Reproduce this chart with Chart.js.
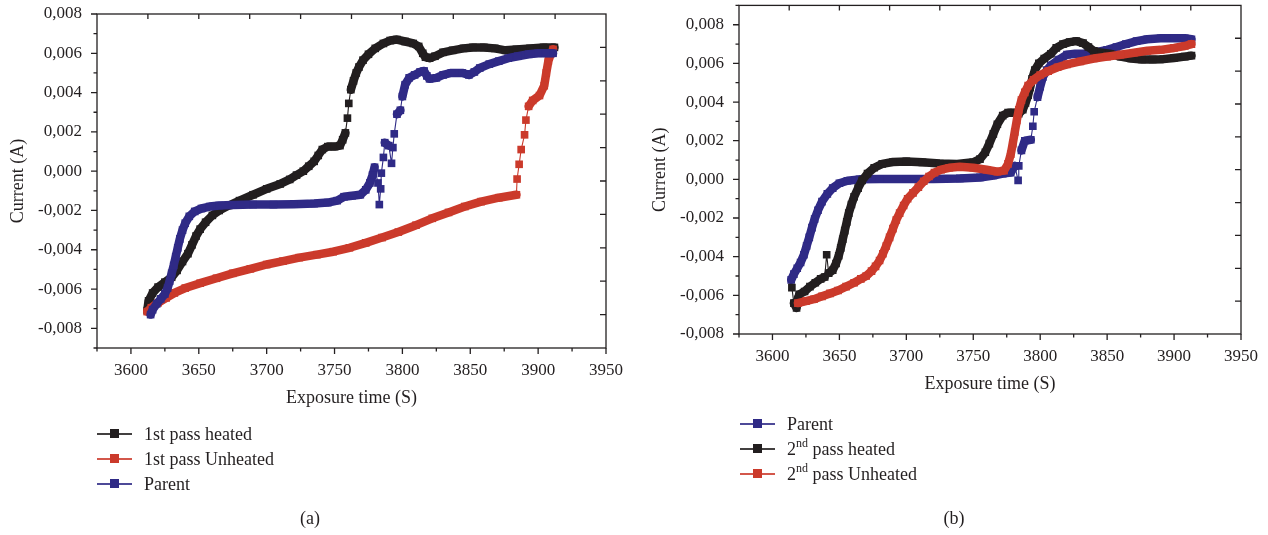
<!DOCTYPE html>
<html>
<head>
<meta charset="utf-8">
<script src="https://cdn.jsdelivr.net/npm/chart.js@4.4.1/dist/chart.umd.min.js"></script>
<style>
  html, body { margin: 0; padding: 0; background: #ffffff; }
  body { width: 1268px; height: 535px; position: relative; overflow: hidden;
         font-family: "Liberation Serif", "DejaVu Serif", serif; color: #231f20; }
  canvas { position: absolute; top: 0; }
  #chartA { left: 0; }
  #chartB { left: 634px; }
  .row { position: absolute; white-space: nowrap; height: 20px; line-height: 20px; font-size: 18px; }
  .sym { position: absolute; top: 0; width: 35px; height: 20px; }
  .sym .ln { position: absolute; left: 0; top: 9px; width: 35px; height: 1.5px; opacity: 0.85; }
  .sym .sq { position: absolute; left: 13px; top: 5px; width: 9px; height: 9px; }
  .txt { position: absolute; top: 0; }
  .txt sup { font-size: 12px; line-height: 0; position: relative; top: -1px; }
  .cap { position: absolute; font-size: 18px; top: 508px; transform: translateX(-50%); }
</style>
</head>
<body>
<canvas id="chartA" width="634" height="535"></canvas>
<canvas id="chartB" width="634" height="535"></canvas>
<div id="legendA"></div>
<div id="legendB"></div>
<div class="cap" style="left:310px">(a)</div>
<div class="cap" style="left:954px">(b)</div>
<script>
// ---------- axis ticks ----------
const xTickValues = [3600, 3650, 3700, 3750, 3800, 3850, 3900, 3950];
const yTickValues = [-0.008, -0.006, -0.004, -0.002, 0, 0.002, 0.004, 0.006, 0.008];
const xTitle = 'Exposure time (S)';
const yTitle = 'Current (A)';

// ---------- panel (a) ----------
const aHeatedLabel = '1st pass heated';
const aHeatedT = [3612,3613,3616,3620,3625,3630,3634,3638,3642,3645,3648,3651,3655,3660,3665,3672,3680,3690,3700,3710,3717,3722,3727,3731,3735,3738,3741,3745,3750,3754,3756,3758,3759.5,3760.5,3762,3764,3766,3768,3771,3775,3780,3786,3791,3796,3802,3808,3812,3815,3817,3820,3824,3830,3837,3845,3852,3860,3868,3876,3884,3894,3904,3912];
const aHeatedI = [-0.0071,-0.0066,-0.0062,-0.0059,-0.00565,-0.0054,-0.00505,-0.0046,-0.0042,-0.00375,-0.0033,-0.00295,-0.0026,-0.00225,-0.002,-0.00175,-0.0015,-0.0012,-0.0009,-0.00065,-0.00042,-0.0002,0,0.00025,0.0005,0.0008,0.0011,0.00125,0.00125,0.0013,0.0016,0.00195,0.0027,0.00345,0.00415,0.0046,0.005,0.0053,0.00565,0.00595,0.00625,0.0065,0.00665,0.0067,0.0066,0.0065,0.00635,0.006,0.0058,0.00575,0.00585,0.00605,0.00615,0.00625,0.0063,0.0063,0.00625,0.00615,0.0062,0.00625,0.0063,0.0063];

const aUnheatedLabel = '1st pass Unheated';
const aUnheatedT = [3612,3615,3620,3626,3632,3640,3651,3663,3675,3688,3700,3712,3724,3737,3749,3761,3773,3785,3797,3810,3822,3834,3846,3858,3871,3884,3884.5,3886,3887.5,3890,3891,3893,3896,3901,3904.5,3906,3907.5,3909.5,3911];
const aUnheatedI = [-0.00715,-0.00695,-0.0067,-0.00645,-0.0062,-0.00595,-0.0057,-0.00545,-0.0052,-0.00497,-0.00475,-0.00458,-0.0044,-0.00425,-0.0041,-0.0039,-0.00365,-0.00338,-0.0031,-0.00275,-0.0024,-0.0021,-0.0018,-0.00155,-0.00135,-0.0012,-0.0004,0.00035,0.0011,0.00185,0.0026,0.0033,0.0036,0.00385,0.00435,0.005,0.0056,0.006,0.0062];

const aParentLabel = 'Parent';
const aParentT = [3614.5,3616,3619,3622,3625,3627,3628.5,3630,3631.5,3633,3634.5,3636,3638,3640,3643,3647,3652,3658,3665,3675,3690,3705,3720,3735,3745,3752,3757,3763,3769,3773,3776,3778,3779.5,3782,3783,3784,3784.5,3786,3787,3790,3792,3793,3794,3796,3798.5,3800,3802,3805,3809,3813,3816,3818,3820,3825,3830,3836,3844,3849,3853,3857,3864,3871,3878,3885,3893,3900,3906,3911];
const aParentI = [-0.0073,-0.00705,-0.00675,-0.0065,-0.00625,-0.00595,-0.0056,-0.0052,-0.0048,-0.00435,-0.0039,-0.00345,-0.003,-0.00265,-0.0023,-0.00205,-0.0019,-0.0018,-0.00175,-0.00172,-0.0017,-0.0017,-0.00168,-0.00165,-0.0016,-0.0015,-0.0013,-0.00125,-0.0012,-0.00095,-0.0006,-0.0002,0.0002,-0.0006,-0.0017,-0.0009,-0.0001,0.0007,0.00145,0.0013,0.0004,0.0012,0.0019,0.0029,0.0031,0.0038,0.0044,0.00475,0.0049,0.00505,0.0051,0.00485,0.0047,0.00475,0.0049,0.005,0.005,0.0049,0.00505,0.00525,0.00545,0.0056,0.00575,0.00585,0.00595,0.006,0.006,0.006];

// ---------- panel (b) ----------
const bParentLabel = 'Parent';
const bParentT = [3614,3616,3618.5,3621,3623.5,3625.5,3627.5,3629.5,3631.5,3634,3637,3641,3645,3650,3656,3665,3680,3700,3720,3740,3755,3765,3772,3778,3781,3783.5,3784,3786,3788.5,3793,3794.5,3795.5,3798,3800,3802,3805,3808,3814,3820,3826,3832,3840,3850,3857,3864,3872,3880,3890,3900,3908,3913];
const bParentI = [-0.0052,-0.0049,-0.0046,-0.0043,-0.0039,-0.00345,-0.003,-0.0025,-0.00205,-0.0016,-0.00115,-0.00075,-0.00045,-0.0002,-0.00007,0,0.00002,0.00002,0.00002,0.00005,0.0001,0.0002,0.0003,0.00035,0.0007,-0.00005,0.0007,0.0015,0.002,0.00205,0.00275,0.0035,0.00425,0.0048,0.0053,0.00565,0.0059,0.0062,0.00645,0.0065,0.0065,0.00655,0.0067,0.00685,0.007,0.00715,0.00725,0.0073,0.0073,0.0073,0.00725];

const bHeatedLabel = '2nd pass heated';
const bHeatedT = [3614.5,3616,3618,3619,3620,3624,3628,3632,3636,3639,3640.5,3642,3645,3647.5,3649.5,3651,3652.5,3654,3655.5,3657,3659,3661,3664,3667,3671,3676,3682,3690,3700,3712,3725,3738,3750,3755,3759,3762,3765,3768,3772,3776,3780,3784,3787,3789,3791,3792.5,3794,3796,3799,3803,3808,3812,3817,3822,3827,3832,3836,3840,3846,3852,3860,3868,3876,3884,3892,3900,3908,3913];
const bHeatedI = [-0.0056,-0.0064,-0.00665,-0.0062,-0.00595,-0.0058,-0.00555,-0.00535,-0.00515,-0.00505,-0.0039,-0.00485,-0.0047,-0.00435,-0.00395,-0.00355,-0.0031,-0.00265,-0.0022,-0.00175,-0.0013,-0.0009,-0.00045,-0.00005,0.0003,0.0006,0.0008,0.0009,0.00093,0.00088,0.00082,0.0008,0.00088,0.00105,0.0014,0.00185,0.00235,0.00285,0.0033,0.00345,0.00345,0.0034,0.0036,0.00395,0.00435,0.00475,0.0052,0.00565,0.006,0.00625,0.0065,0.0068,0.007,0.0071,0.00715,0.00705,0.00685,0.00665,0.00655,0.0065,0.00635,0.00625,0.0062,0.0062,0.00622,0.00628,0.00635,0.0064];

const bUnheatedLabel = '2nd pass Unheated';
const bUnheatedT = [3619,3625,3631,3637,3643,3649,3655,3661,3666,3670,3674,3677,3680,3682.5,3685,3687.5,3690,3692.5,3695,3698,3701,3705,3709,3713,3717,3721,3726,3732,3740,3750,3760,3768,3773,3776,3778,3779.5,3781,3782.5,3784,3786,3788.5,3791,3795,3800,3806,3813,3820,3830,3840,3850,3860,3870,3880,3890,3900,3908,3913];
const bUnheatedI = [-0.0064,-0.0063,-0.0062,-0.00605,-0.0059,-0.00575,-0.00555,-0.00535,-0.00515,-0.005,-0.00475,-0.0045,-0.0042,-0.00385,-0.00345,-0.003,-0.00255,-0.0021,-0.00175,-0.00135,-0.001,-0.0007,-0.0004,-0.0001,0.00015,0.00035,0.0005,0.0006,0.00065,0.0006,0.0005,0.0004,0.00045,0.0008,0.0013,0.00185,0.00245,0.00305,0.0036,0.0041,0.0045,0.00485,0.00515,0.0054,0.0056,0.0058,0.00595,0.0061,0.00625,0.00635,0.00645,0.00655,0.00665,0.0067,0.0068,0.0069,0.007];

// ---------- styling ----------
const INK = '#231f20';
const FONT = '"Liberation Serif", "DejaVu Serif", serif';
const BLACK = '#221e1f';
const RED = '#cb3a2b';
const BLUE = '#2f2a86';
const THICK = 8.5;

function pairs(ts, vs) { return ts.map((t, i) => ({ x: t, y: vs[i] })); }

function series(label, ts, vs, color) {
  return {
    label, data: pairs(ts, vs),
    borderColor: color, backgroundColor: color,
    pointBackgroundColor: color, pointBorderWidth: 0,
    pointStyle: 'rect', pointRadius: 5.4, pointHoverRadius: 5.4,
    borderWidth: THICK, tension: 0,
    borderCapStyle: 'round', borderJoinStyle: 'round',
    segment: {
      // sparse, near-vertical jumps are joined by a thin line (as in the original plot)
      borderWidth: ctx => {
        const dx = ctx.p1.x - ctx.p0.x, dy = ctx.p1.y - ctx.p0.y;
        return (Math.hypot(dx, dy) > 13 && Math.abs(dy) > 1.5 * Math.abs(dx)) ? 1.1 : THICK;
      }
    }
  };
}

const framePlugin = {
  id: 'frame',
  afterDatasetsDraw(chart) {
    const { ctx, chartArea: a, scales: { x, y } } = chart;
    ctx.save();
    ctx.strokeStyle = INK;
    ctx.lineWidth = 1.3;
    ctx.strokeRect(a.left, a.top, a.right - a.left, a.bottom - a.top);
    ctx.beginPath();
    const xStep = (xTickValues[1] - xTickValues[0]) / 2;
    const nx = Math.round((x.max - x.min) / xStep);
    for (let i = 0; i <= nx; i++) {
      const v = x.min + i * xStep;
      const px = x.getPixelForValue(v);
      const major = Math.abs(v / (2 * xStep) - Math.round(v / (2 * xStep))) < 1e-6;
      ctx.moveTo(px, a.bottom);
      ctx.lineTo(px, a.bottom + (major ? 6 : 3.5));
    }
    const yStep = (yTickValues[1] - yTickValues[0]) / 2;
    const ny = Math.round((y.max - y.min) / yStep);
    for (let i = 0; i <= ny; i++) {
      const v = y.min + i * yStep;
      const py = y.getPixelForValue(v);
      const major = Math.abs(v / (2 * yStep) - Math.round(v / (2 * yStep))) < 1e-6;
      ctx.moveTo(a.left, py);
      ctx.lineTo(a.left - (major ? 6 : 3.5), py);
    }
    for (let i = 1; i < 10; i++) {
      const px = a.left + (a.right - a.left) * i / 10;
      ctx.moveTo(px, a.top); ctx.lineTo(px, a.top + 5);
      const py = a.top + (a.bottom - a.top) * i / 10;
      ctx.moveTo(a.right, py); ctx.lineTo(a.right - 6, py);
    }
    ctx.stroke();
    ctx.restore();
  }
};

function fmt(v) { const s = (Math.abs(v) < 1e-12 ? 0 : v).toFixed(3).replace('.', ','); return s; }

function makeChart(id, datasets, yMin, yMax, pad, yWidth, xHeight) {
  return new Chart(document.getElementById(id), {
    type: 'line',
    data: { datasets },
    options: {
      responsive: false, animation: false, devicePixelRatio: 1, events: [],
      layout: { padding: pad },
      plugins: { legend: { display: false }, tooltip: { enabled: false } },
      scales: {
        x: {
          type: 'linear', min: 3575, max: 3950,
          afterBuildTicks: s => { s.ticks = xTickValues.map(v => ({ value: v })); },
          afterFit: s => { s.height = xHeight; s.paddingLeft = 0; s.paddingRight = 0; },
          grid: { display: false, drawTicks: false }, border: { display: false },
          ticks: { autoSkip: false, maxRotation: 0, padding: 12, color: INK,
                   font: { family: FONT, size: 17 }, callback: v => String(v) },
          title: { display: true, text: xTitle, color: INK, padding: 0,
                   font: { family: FONT, size: 18 } }
        },
        y: {
          type: 'linear', min: yMin, max: yMax,
          afterBuildTicks: s => { s.ticks = yTickValues.map(v => ({ value: v })); },
          afterFit: s => { s.width = yWidth; s.paddingTop = 0; s.paddingBottom = 0; },
          grid: { display: false, drawTicks: false }, border: { display: false },
          ticks: { autoSkip: false, padding: 15, color: INK,
                   font: { family: FONT, size: 17 }, callback: v => fmt(v) },
          title: { display: true, text: yTitle, color: INK, padding: 0,
                   font: { family: FONT, size: 18 } }
        }
      }
    },
    plugins: [framePlugin]
  });
}

// panel (a): Parent drawn on top, then Unheated, then Heated
makeChart('chartA', [
  series(aParentLabel, aParentT, aParentI, BLUE),
  series(aUnheatedLabel, aUnheatedT, aUnheatedI, RED),
  series(aHeatedLabel, aHeatedT, aHeatedI, BLACK)
], -0.009, 0.008, { left: 7, right: 28, top: 14, bottom: 126 }, 90, 61);

// panel (b): Unheated on top, then Heated, then Parent
makeChart('chartB', [
  series(bUnheatedLabel, bUnheatedT, bUnheatedI, RED),
  series(bHeatedLabel, bHeatedT, bHeatedI, BLACK),
  series(bParentLabel, bParentT, bParentI, BLUE)
], -0.008, 0.009, { left: 15, right: 27, top: 4, bottom: 140 }, 90, 61);

// ---------- legends ----------
function legend(el, items, left, centers, sup) {
  items.forEach((it, i) => {
    const row = document.createElement('div');
    row.className = 'row';
    row.style.left = left + 'px';
    row.style.top = (centers[i] - 10) + 'px';
    const sym = document.createElement('div');
    sym.className = 'sym';
    sym.innerHTML = '<div class="ln" style="background:' + it.color + '"></div><div class="sq" style="background:' + it.color + '"></div>';
    const txt = document.createElement('div');
    txt.className = 'txt';
    txt.style.left = '47px';
    if (sup) {
      const m = it.label.match(/^(\d)(st|nd|rd|th)(.*)$/);
      if (m) { txt.append(m[1]); const s = document.createElement('sup'); s.textContent = m[2]; txt.append(s); txt.append(m[3]); }
      else txt.textContent = it.label;
    } else txt.textContent = it.label;
    row.appendChild(sym); row.appendChild(txt);
    el.appendChild(row);
  });
}
legend(document.getElementById('legendA'), [
  { label: aHeatedLabel, color: BLACK },
  { label: aUnheatedLabel, color: RED },
  { label: aParentLabel, color: BLUE }
], 97, [434, 459, 484], false);
legend(document.getElementById('legendB'), [
  { label: bParentLabel, color: BLUE },
  { label: bHeatedLabel, color: BLACK },
  { label: bUnheatedLabel, color: RED }
], 740, [424, 449, 474], true);
</script>
</body>
</html>
